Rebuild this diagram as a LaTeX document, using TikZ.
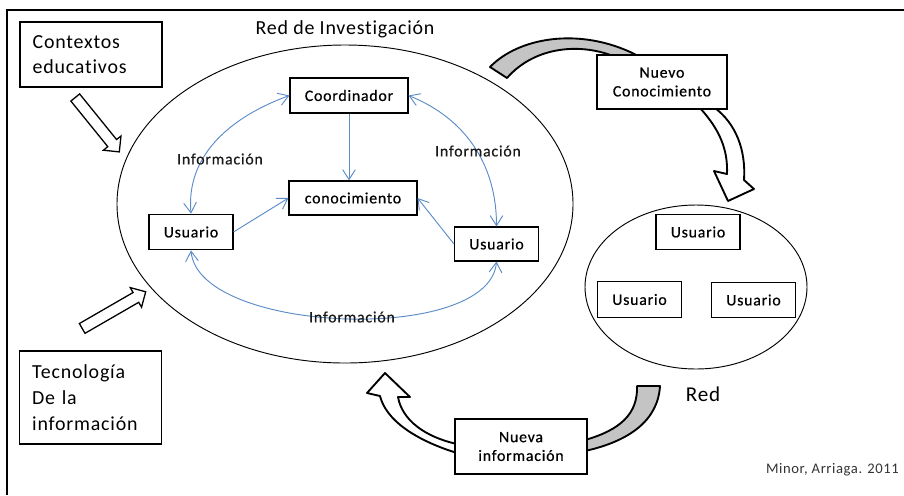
\documentclass[tikz,border=0pt]{standalone}
\usepackage{fontspec}
\setmainfont{Carlito}[Ligatures=NoCommon]
\usepackage{tikz}
\usetikzlibrary{positioning}
\usetikzlibrary{shapes.geometric,shapes.arrows,arrows.meta}
\definecolor{infoblue}{RGB}{91,140,200}
\definecolor{tailgray}{RGB}{196,196,196}
\newcommand{\chico}[0]{\fontsize{13.5}{16}\selectfont\addfontfeatures{LetterSpace=5,FakeBold=0.6}}
\newcommand{\grande}[0]{\fontsize{17}{22}\selectfont\addfontfeatures{LetterSpace=4}}

\begin{document}
\begin{tikzpicture}[x=0.03cm, y=-0.03cm,
    box/.style={draw, line width=0.9pt, fill=white, inner sep=0pt, align=center, font=\chico},
    usrbox/.style={box, minimum width=2.52cm, minimum height=1.07cm},
    bigbox/.style={draw, line width=0.9pt, fill=white, align=left, text width=3.5cm, inner xsep=0.38cm, font=\grande},
    net/.style={draw, ellipse, line width=0.8pt, inner sep=0pt},
    info/.style={draw=infoblue, line width=0.8pt, >={Straight Barb[length=3mm,width=3.8mm]}},
    infolbl/.style={font=\chico, text=black!90},
    hollow/.style={draw, single arrow, fill=white, line width=1.1pt, inner xsep=0pt, inner ysep=0.15cm, single arrow head extend=0.17cm, single arrow tip angle=90},
    curvedarrow/.style={draw, line width=1.6pt, line join=round}]
      \useasboundingbox (0,0) rectangle (904,495);
      \draw[line width=0.9pt] (904,10) -- (7,10) -- (7,495);

      % red de investigacion
      \node(redinv) [net, minimum width=13.68cm, minimum height=9.54cm] at (345,204) {};
      \node(titulo) [font=\grande] at (345,29) {Red de Investigación};
      \node(red) [net, minimum width=6.66cm, minimum height=4.92cm] at (696,287) {};
      \node(redlbl) [font=\fontsize{18}{22}\selectfont\addfontfeatures{LetterSpace=4}] at (703,394) {Red};

      % flechas grandes
      \draw[curvedarrow, fill=tailgray] (490,67) .. controls (520,36) and (585,26) .. (642,58) -- (618,58) .. controls (582,42) and (535,46) .. (507,78) -- cycle;
      \draw[curvedarrow, fill=white] (700,108) .. controls (720,130) and (728,150) .. (727,174) -- (714,171) -- (728,201) -- (754,189) -- (744,180) .. controls (746,150) and (736,124) .. (715,108) -- cycle;
      \draw[curvedarrow, fill=tailgray] (637,386) -- (660,386) .. controls (658,420) and (630,441) .. (585,451) -- (585,440) .. controls (620,430) and (638,414) .. (637,386) -- cycle;
      \draw[curvedarrow, fill=white] (457,453) .. controls (415,440) and (386,420) .. (380,396) -- (367,393) -- (385,373) -- (410,397) -- (398,397) .. controls (402,420) and (425,437) .. (457,444) -- cycle;
      \node(flctx) [hollow, minimum height=2.1cm, rotate=-51] at (95.5,122.5) {};
      \node(fltec) [hollow, minimum height=2.2cm, rotate=30] at (111.5,311.5) {};

      % cajas
      \node(ctx) [bigbox, minimum height=1.95cm] at (91,54.5) {Contextos\\educativos};
      \node(tec) [bigbox, minimum height=2.79cm] at (90.5,397.5) {Tecnología\\De la\\información};
      \node(coord) [box, minimum width=3.54cm, minimum height=1.05cm] at (349,95.5) {Coordinador};
      \node(conoc) [box, minimum width=3.84cm, minimum height=1.02cm] at (353,198) {conocimiento};
      \node(usrL) [usrbox] at (191,232) {Usuario};
      \node(usrR) [usrbox, minimum height=1.02cm] at (496.5,244) {Usuario};
      \node(nuevoC) [box, minimum width=3.9cm, minimum height=1.62cm] at (662,82) {Nuevo\\Conocimiento};
      \node(nuevaI) [box, minimum width=3.96cm, minimum height=1.65cm] at (521,446.5) {Nueva\\información};
      \node(usr1) [usrbox] at (698,232) {Usuario};
      \node(usr2) [usrbox] at (639.5,299.5) {Usuario};
      \node(usr3) [usrbox] at (753.5,300) {Usuario};

      % flujo de informacion
      \draw[info,->] (coord.south) -- (coord.south |- conoc.north);
      \draw[info,->] (usrL.east) -- (conoc.west);
      \draw[info,->] (usrR.west) -- (conoc.east);
      \draw[info,<->] (usrL.north) to[out=95,in=200] (coord.west);
      \draw[info,<->] (coord.east) to[out=-22,in=90] (usrR.north);
      \draw[info,<->] (usrL.south) to[out=-85,in=-95,looseness=0.7] (usrR.south);
      \node(infoL) [infolbl] at (220,159) {Información};
      \node(infoR) [infolbl] at (478,151) {Información};
      \node(infoB) [infolbl] at (352,317) {Información};

      \node(autor) [anchor=east, font=\fontsize{12.5}{15}\selectfont\addfontfeatures{LetterSpace=4}, text=black!80] at (903,470) {Minor, Arriaga. 2011};
    \end{tikzpicture}
\end{document}
